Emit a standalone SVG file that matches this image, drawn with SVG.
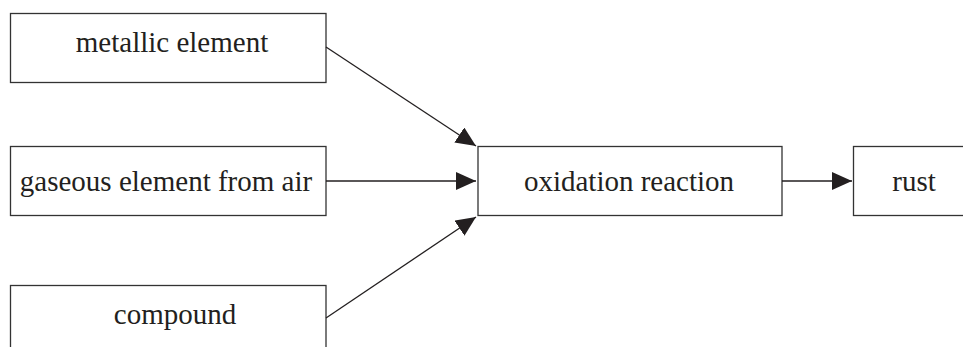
<svg xmlns="http://www.w3.org/2000/svg" width="963" height="347" viewBox="0 0 963 347">
<style>
.box{fill:#fff;stroke:#333;stroke-width:1.3}
.lbl{fill:#231f20;text-anchor:middle}
.conn{stroke:#231f20;stroke-width:1.3;fill:none;marker-end:url(#arr)}
</style>
<defs>
<marker id="arr" markerUnits="userSpaceOnUse" markerWidth="20" markerHeight="18" refX="20" refY="9" orient="auto" viewBox="0 0 20 18">
<path d="M0,0 L20,9 L0,18 Z" fill="#231f20"/>
</marker>
</defs>
<rect width="963" height="347" fill="#fff"/>
<g id="metallic">
<rect class="box" x="10.5" y="13.5" width="315.5" height="69"/>
<text class="lbl" font-family="Liberation Serif" font-size="29" x="172" y="52">metallic element</text>
</g>
<g id="gaseous">
<rect class="box" x="10.5" y="146.5" width="315.5" height="69"/>
<text class="lbl" font-family="Liberation Serif" font-size="29" x="166" y="191">gaseous element from air</text>
</g>
<g id="compound">
<rect class="box" x="10.5" y="285.5" width="315.5" height="80"/>
<text class="lbl" font-family="Liberation Serif" font-size="29" x="175" y="324">compound</text>
</g>
<g id="oxidation">
<rect class="box" x="478" y="146.5" width="304" height="69"/>
<text class="lbl" font-family="Liberation Serif" font-size="29" x="629" y="191">oxidation reaction</text>
</g>
<g id="rust">
<rect class="box" x="853.5" y="146.5" width="120" height="69"/>
<text class="lbl" font-family="Liberation Serif" font-size="29" x="914" y="191">rust</text>
</g>
<g id="connectors">
<line class="conn" x1="326" y1="47" x2="476" y2="146"/>
<line class="conn" x1="326" y1="181" x2="476" y2="181"/>
<line class="conn" x1="326" y1="318" x2="476" y2="217"/>
<line class="conn" x1="782" y1="181" x2="852" y2="181"/>
</g>
</svg>
